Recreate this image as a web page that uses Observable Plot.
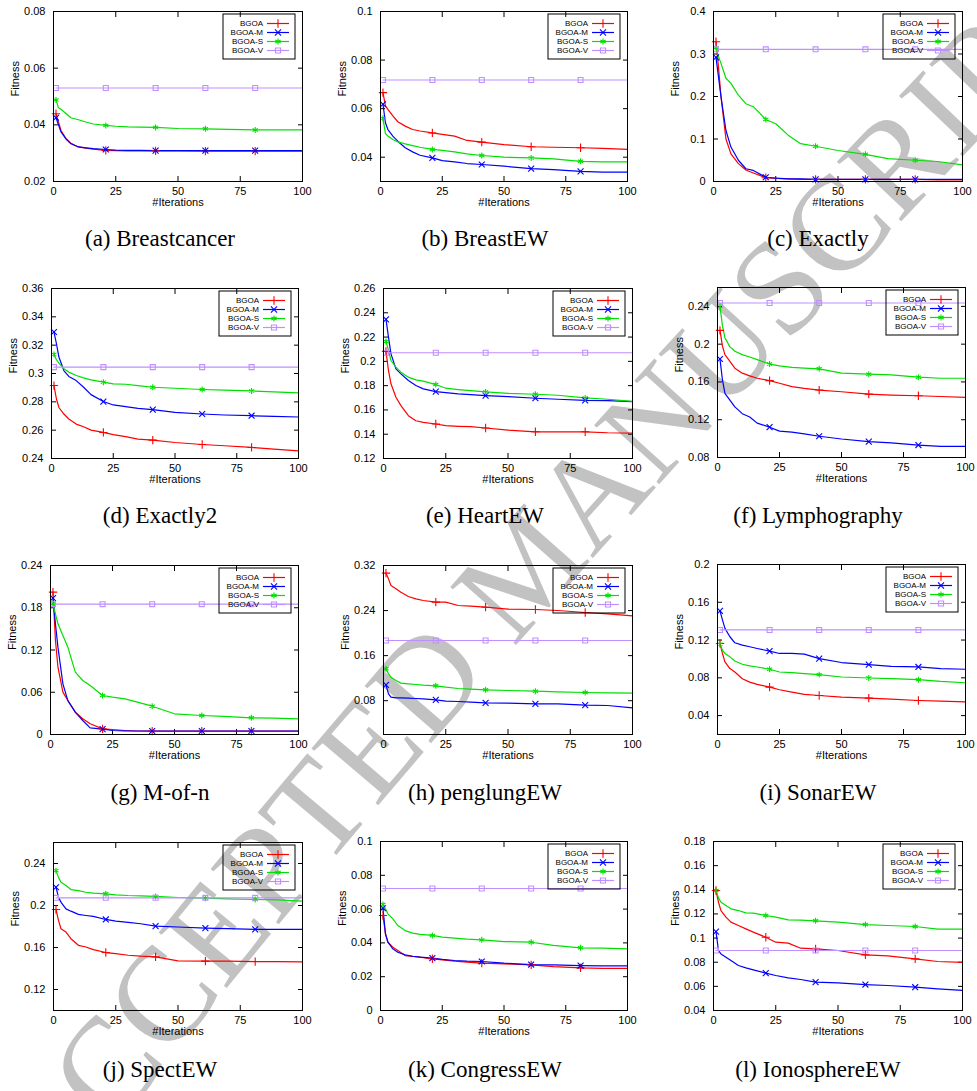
<!DOCTYPE html>
<html><head><meta charset="utf-8">
<script src="https://cdn.jsdelivr.net/npm/d3@7"></script>
<script src="https://cdn.jsdelivr.net/npm/@observablehq/plot@0.6"></script>
<style>
body{margin:0;background:#fff;}
#wrap{position:relative;width:977px;height:1091px;overflow:hidden;background:#fff;}
</style></head><body><div id="wrap"></div>
<script>
const seriesNames = ["BGOA","BGOA-M","BGOA-S","BGOA-V"];
const seriesColors = ["#ff0000","#0000ff","#00e000","#bf8fff"];
const seriesSymbols = ["plus","times","asterisk","square"];
const iters = [1,2,3,5,7,10,13,16,21,25,30,35,41,50,61,70,81,90,100];
const itersV = [1,21,41,61,81,100];
const markerIters = [1,21,41,61,81];
const xTicks = [0,25,50,75,100];
const watermark = "ACCEPTED MANUSCRIPT";

// (a) Breastcancer
const bcBGOA = [0.0439,0.041,0.038,0.0352,0.0335,0.0322,0.0318,0.0314,0.031,0.0309,0.0308,0.0308,0.0308,0.0308,0.0307,0.0307,0.0307,0.0307,0.0307];
const bcM = [0.0425,0.040,0.0375,0.035,0.0333,0.0322,0.0319,0.0316,0.0313,0.0311,0.031,0.031,0.0309,0.0309,0.0309,0.0309,0.0309,0.0309,0.0309];
const bcS = [0.0488,0.046,0.0455,0.044,0.0425,0.0418,0.041,0.0403,0.0398,0.0395,0.0393,0.0392,0.0391,0.0387,0.0386,0.0384,0.0382,0.0382,0.0382];
const bcV = [0.053,0.053,0.053,0.053,0.053,0.053];
// (b) BreastEW
const bewBGOA = [0.0666,0.0611,0.0597,0.057,0.0546,0.0528,0.0514,0.0508,0.050,0.0494,0.0487,0.0469,0.0462,0.0452,0.0443,0.0441,0.0439,0.0436,0.0432];
const bewM = [0.0618,0.0542,0.0514,0.0487,0.0466,0.0439,0.0422,0.0408,0.0397,0.0386,0.0381,0.0374,0.037,0.0363,0.0353,0.0349,0.0342,0.0339,0.0339];
const bewS = [0.056,0.0497,0.0487,0.0473,0.0463,0.0455,0.0448,0.0441,0.0432,0.0428,0.0422,0.0414,0.0407,0.04,0.0397,0.0393,0.0383,0.0381,0.0381];
const bewV = [0.0718,0.0718,0.0718,0.0718,0.0718,0.0718];
// (c) Exactly
const exBGOA = [0.329,0.27,0.2,0.1,0.065,0.042,0.027,0.02,0.009,0.007,0.006,0.005,0.005,0.005,0.005,0.005,0.005,0.004,0.004];
const exM = [0.292,0.246,0.2,0.12,0.081,0.05,0.03,0.026,0.01,0.008,0.006,0.006,0.005,0.005,0.005,0.005,0.005,0.005,0.005];
const exS = [0.315,0.294,0.278,0.243,0.231,0.203,0.183,0.176,0.146,0.136,0.109,0.089,0.083,0.073,0.064,0.054,0.05,0.047,0.039];
const exV = [0.311,0.311,0.311,0.311,0.311,0.311];
// (d) Exactly2
const ex2BGOA = [0.2915,0.282,0.276,0.2714,0.2679,0.2643,0.2624,0.26,0.2584,0.2568,0.2554,0.2537,0.253,0.2513,0.2499,0.249,0.2478,0.2466,0.2454];
const ex2M = [0.3293,0.321,0.3116,0.3021,0.2979,0.295,0.2903,0.2851,0.2802,0.2778,0.2766,0.2754,0.2745,0.2726,0.2714,0.2707,0.2702,0.2698,0.2693];
const ex2S = [0.3135,0.3097,0.3073,0.3033,0.301,0.2986,0.2969,0.2955,0.2939,0.2927,0.2924,0.2915,0.2903,0.2896,0.2887,0.2882,0.2877,0.287,0.2863];
const ex2V = [0.3045,0.3045,0.3045,0.3045,0.3045,0.3045];
// (e) HeartEW
const heBGOA = [0.2082,0.1925,0.1815,0.1704,0.1635,0.1553,0.1511,0.1498,0.1484,0.147,0.1465,0.1462,0.1451,0.1434,0.142,0.142,0.142,0.1412,0.1409];
const heM = [0.2346,0.22,0.2062,0.1938,0.1897,0.1842,0.1801,0.1773,0.1751,0.1743,0.1732,0.1726,0.1718,0.171,0.1696,0.1688,0.1679,0.1677,0.1668];
const heS = [0.2164,0.209,0.2007,0.1952,0.1911,0.187,0.1848,0.1837,0.1809,0.1779,0.1768,0.1759,0.1748,0.1737,0.1729,0.1721,0.1699,0.1688,0.1671];
const heV = [0.2071,0.2071,0.2071,0.2071,0.2071,0.2071];
// (f) Lymphography
const lyBGOA = [0.2146,0.1979,0.1889,0.1818,0.1746,0.1693,0.1664,0.1639,0.1614,0.1586,0.155,0.1532,0.1514,0.1496,0.1471,0.1461,0.1454,0.1446,0.1436];
const lyM = [0.1843,0.1621,0.1479,0.1407,0.1336,0.1264,0.1229,0.1164,0.1121,0.1079,0.1068,0.105,0.1025,0.0996,0.0968,0.0954,0.0932,0.0918,0.0918];
const lyS = [0.24,0.2193,0.2068,0.1971,0.1925,0.1889,0.1864,0.1836,0.1789,0.1771,0.1754,0.1746,0.1739,0.1693,0.1682,0.1675,0.165,0.1639,0.1639];
const lyV = [0.2436,0.2436,0.2436,0.2436,0.2436,0.2436];
// (g) M-of-n
const mnBGOA = [0.2022,0.1335,0.0956,0.0601,0.0483,0.0317,0.0223,0.0152,0.008,0.0071,0.0057,0.005,0.0047,0.0047,0.0047,0.0047,0.0047,0.0047,0.0047];
const mnM = [0.1937,0.157,0.124,0.072,0.048,0.0317,0.0199,0.0095,0.0076,0.0057,0.0052,0.005,0.005,0.005,0.005,0.005,0.005,0.005,0.005];
const mnS = [0.1856,0.1714,0.1572,0.1406,0.124,0.0885,0.0767,0.0696,0.0554,0.053,0.0507,0.0459,0.0402,0.0294,0.027,0.0256,0.0237,0.0232,0.0223];
const mnV = [0.1851,0.1851,0.1851,0.1851,0.1851,0.1851];
// (h) penglungEW
const plBGOA = [0.3064,0.2963,0.2845,0.2786,0.2727,0.265,0.2608,0.2579,0.2549,0.2549,0.249,0.2478,0.246,0.2425,0.2419,0.2401,0.2366,0.2342,0.2306];
const plM = [0.1082,0.0922,0.0863,0.0851,0.0851,0.0845,0.0839,0.0833,0.0815,0.0792,0.0786,0.0774,0.0762,0.0756,0.0744,0.0744,0.0721,0.0715,0.0673];
const plS = [0.1366,0.1277,0.1218,0.1159,0.1112,0.11,0.1088,0.1076,0.1064,0.104,0.1017,0.1005,0.0993,0.0981,0.0969,0.0957,0.0946,0.094,0.0934];
const plV = [0.1869,0.1869,0.1869,0.1869,0.1869,0.1869];
// (i) SonarEW
const soBGOA = [0.1164,0.1058,0.0969,0.0898,0.0862,0.0791,0.0755,0.073,0.0702,0.0674,0.0649,0.0624,0.0613,0.0595,0.0585,0.0574,0.056,0.0553,0.0546];
const soM = [0.1509,0.1413,0.1324,0.1235,0.1171,0.1147,0.1129,0.1111,0.1083,0.1058,0.1058,0.1051,0.1004,0.0962,0.094,0.0922,0.0915,0.0898,0.0891];
const soS = [0.1157,0.1093,0.1058,0.1022,0.0979,0.0944,0.0926,0.0915,0.0891,0.0862,0.0855,0.0844,0.0834,0.0809,0.0798,0.0791,0.078,0.0762,0.0748];
const soV = [0.1307,0.1307,0.1307,0.1307,0.1307,0.1307];
// (j) SpectEW
const spBGOA = [0.1962,0.1858,0.1779,0.1747,0.1684,0.1621,0.1605,0.158,0.1552,0.1542,0.1526,0.1517,0.1511,0.1473,0.147,0.147,0.1466,0.1466,0.1463];
const spM = [0.2174,0.2079,0.2032,0.1968,0.1946,0.1915,0.1905,0.1896,0.1867,0.1852,0.1839,0.1826,0.1804,0.1795,0.1785,0.1779,0.1773,0.1773,0.1773];
const spS = [0.2332,0.2268,0.2221,0.219,0.2152,0.2142,0.2126,0.2117,0.2111,0.2101,0.2095,0.2092,0.2086,0.2076,0.207,0.2063,0.2057,0.2054,0.2041];
const spV = [0.2073,0.2073,0.2073,0.2073,0.2073,0.2073];
// (k) CongressEW
const cgBGOA = [0.0562,0.0454,0.0404,0.0375,0.0355,0.0325,0.032,0.0316,0.0306,0.03,0.0292,0.0286,0.028,0.0276,0.027,0.026,0.0252,0.0249,0.0249];
const cgM = [0.0606,0.0454,0.0404,0.0365,0.0345,0.0329,0.0321,0.0316,0.031,0.0302,0.0296,0.0292,0.029,0.028,0.0272,0.027,0.0266,0.0264,0.0264];
const cgS = [0.0627,0.0602,0.0572,0.0542,0.0503,0.0473,0.0458,0.045,0.0444,0.0434,0.0428,0.0422,0.0418,0.0408,0.0404,0.0385,0.0371,0.0369,0.0365];
const cgV = [0.0722,0.0722,0.0722,0.0722,0.0722,0.0722];
// (l) IonosphereEW
const ioBGOA = [0.1394,0.1297,0.1228,0.1173,0.1132,0.1104,0.1076,0.1049,0.1007,0.0966,0.0958,0.0916,0.0911,0.0897,0.0861,0.0853,0.0828,0.0806,0.0798];
const ioM = [0.1054,0.0897,0.0869,0.0842,0.0814,0.0773,0.0753,0.0737,0.0709,0.069,0.0671,0.0657,0.0635,0.0629,0.0615,0.0607,0.0593,0.0579,0.0566];
const ioS = [0.1394,0.1333,0.1297,0.127,0.1242,0.1228,0.1209,0.1206,0.1187,0.1173,0.1151,0.1148,0.1143,0.1132,0.1112,0.1104,0.1096,0.1074,0.1074];
const ioV = [0.0897,0.0897,0.0897,0.0897,0.0897,0.0897];

const captions = ["(a) Breastcancer","(b) BreastEW","(c) Exactly","(d) Exactly2","(e) HeartEW","(f) Lymphography","(g) M-of-n","(h) penglungEW","(i) SonarEW","(j) SpectEW","(k) CongressEW","(l) IonosphereEW"];
const yDomains = [[0.02,0.08],[0.03,0.1],[0,0.4],[0.24,0.36],[0.12,0.26],[0.08,0.26],[0,0.24],[0.02,0.32],[0.02,0.2],[0.1,0.26],[0,0.1],[0.04,0.18]];
const yTickSets = [
  [0.02,0.04,0.06,0.08],
  [0.04,0.06,0.08,0.1],
  [0,0.1,0.2,0.3,0.4],
  [0.24,0.26,0.28,0.3,0.32,0.34,0.36],
  [0.12,0.14,0.16,0.18,0.2,0.22,0.24,0.26],
  [0.08,0.12,0.16,0.2,0.24],
  [0,0.06,0.12,0.18,0.24],
  [0.08,0.16,0.24,0.32],
  [0.04,0.08,0.12,0.16,0.2],
  [0.12,0.16,0.2,0.24],
  [0,0.02,0.04,0.06,0.08,0.1],
  [0.04,0.06,0.08,0.1,0.12,0.14,0.16,0.18]
];
const panelSeries = [
  [bcBGOA,bcM,bcS,bcV],[bewBGOA,bewM,bewS,bewV],[exBGOA,exM,exS,exV],
  [ex2BGOA,ex2M,ex2S,ex2V],[heBGOA,heM,heS,heV],[lyBGOA,lyM,lyS,lyV],
  [mnBGOA,mnM,mnS,mnV],[plBGOA,plM,plS,plV],[soBGOA,soM,soS,soV],
  [spBGOA,spM,spS,spV],[cgBGOA,cgM,cgS,cgV],[ioBGOA,ioM,ioS,ioV]
];

// layout: frame [left, top, right, bottom] in page pixels
const frames = [
  [53,11,302,181],[380,11,627,181],[713,11,962,181],
  [51,288,298,458],[383,288,632,458],[717,287,965,457],
  [50,565,298,734],[383,565,632,734],[717,564,965,734],
  [53,842,302,1010],[380,841,627,1010],[713,841,962,1010]
];
const captionX = [160,485,818];
const captionY = [246,523,800,1077];

const wrap = d3.select("#wrap");
const bg = wrap.append("svg").attr("width",977).attr("height",1091)
  .style("position","absolute").style("left","0px").style("top","0px");

// watermark: letters placed one by one along a gentle arc (letter centres on the path)
const wmFont = "'Liberation Serif','Times New Roman',serif", wmSize = 134;
const wmPath = bg.append("path").attr("d","M 20 1180 Q 430 640 1090 -40").attr("fill","none").node();
const wmG = bg.append("g").attr("font-family",wmFont).attr("font-size",wmSize).attr("fill","#c2c2c2");
const measure = wmG.append("text").attr("x",-999).attr("y",-999);
let pos = 0;
const total = wmPath.getTotalLength();
for (const ch of watermark) {
  measure.text(ch === " " ? "\u00a0" : ch);
  const w = measure.node().getComputedTextLength();
  const mid = pos + w/2;
  if (ch !== " " && mid <= total) {
    const p = wmPath.getPointAtLength(mid);
    const p2 = wmPath.getPointAtLength(Math.min(total, mid+1));
    const p1 = wmPath.getPointAtLength(Math.max(0, mid-1));
    const ang = Math.atan2(p2.y-p1.y, p2.x-p1.x)*180/Math.PI;
    wmG.append("text").attr("text-anchor","middle").attr("dy","0.33em")
      .attr("transform",`translate(${p.x},${p.y}) rotate(${ang})`).text(ch);
  }
  pos += w;
}
measure.remove();

captions.forEach((c,i)=>{
  bg.append("text").attr("x",captionX[i%3]).attr("y",captionY[Math.floor(i/3)])
    .attr("text-anchor","middle").attr("font-family","'Liberation Serif','Times New Roman',serif")
    .attr("font-size",23).attr("fill","#000").text(c);
});

const fmt = d3.format("~g");
const symMap = {plus:d3.symbolPlus, times:d3.symbolTimes, asterisk:d3.symbolAsterisk, square:d3.symbolSquare};

panelSeries.forEach((ser,i)=>{
  const [L,T,R,B] = frames[i];
  const ml=50, mr=10, mt=10, mb=40;
  const W = R-L+ml+mr, H = B-T+mt+mb;
  const rows = [];
  ser.forEach((vals,k)=>{
    const xs = k===3 ? itersV : iters;
    vals.forEach((v,j)=>rows.push({s:seriesNames[k], it:xs[j], v}));
  });
  const markRows = rows.filter(d=>markerIters.includes(d.it));
  const plot = Plot.plot({
    width: W, height: H,
    marginLeft: ml, marginRight: mr, marginTop: mt, marginBottom: mb,
    style: {background:"transparent", fontFamily:"'Liberation Sans',Arial,sans-serif", fontSize:"11px", color:"#000", overflow:"visible"},
    x: {domain:[0,100]},
    y: {domain: yDomains[i]},
    color: {domain: seriesNames, range: seriesColors},
    symbol: {domain: seriesNames, range: seriesSymbols},
    marks: [
      Plot.axisX(xTicks, {anchor:"bottom", tickSize:-5, tickPadding:11, tickFormat: fmt, label:null}),
      Plot.axisX(xTicks, {anchor:"top", tickSize:-5, fill:"none", label:null}),
      Plot.axisY(yTickSets[i], {anchor:"left", tickSize:-5, tickPadding:13, tickFormat: fmt, label:null}),
      Plot.axisY(yTickSets[i], {anchor:"right", tickSize:-5, fill:"none", label:null}),
      Plot.line(rows, {x:"it", y:"v", z:"s", stroke:"s", strokeWidth:1.2}),
      Plot.dot(markRows, {x:"it", y:"v", symbol:"s", stroke:"s", fill:"none", r:2.8, strokeWidth:1.1}),
      Plot.frame({stroke:"#000", strokeWidth:1}),
      Plot.text(["#Iterations"], {frameAnchor:"bottom", dy:24, fontSize:11}),
      Plot.text(["Fitness"], {frameAnchor:"left", dx:-38, rotate:-90, fontSize:11})
    ]
  });
  plot.style.position = "absolute";
  plot.style.left = (L-ml)+"px";
  plot.style.top = (T-mt)+"px";
  // legend
  const svg = d3.select(plot);
  const xr = W - mr, yt = mt;
  const g = svg.append("g").attr("font-family","'Liberation Sans',Arial,sans-serif").attr("font-size",8);
  g.append("rect").attr("x",xr-79).attr("y",yt+3).attr("width",72).attr("height",45)
    .attr("fill","none").attr("stroke","#000").attr("stroke-width",1);
  seriesNames.forEach((n,k)=>{
    const y = yt + 12.5 + 9*k;
    g.append("text").attr("x",xr-39).attr("y",y).attr("dy","0.35em").attr("text-anchor","end").attr("fill","#000").text(n);
    g.append("line").attr("x1",xr-35).attr("x2",xr-13).attr("y1",y).attr("y2",y)
      .attr("stroke",seriesColors[k]).attr("stroke-width",1.2);
    g.append("path").attr("transform",`translate(${xr-24},${y})`)
      .attr("d", d3.symbol(symMap[seriesSymbols[k]], 26)())
      .attr("fill","none").attr("stroke",seriesColors[k]).attr("stroke-width",1.1);
  });
  wrap.node().appendChild(plot);
});
</script></body></html>
